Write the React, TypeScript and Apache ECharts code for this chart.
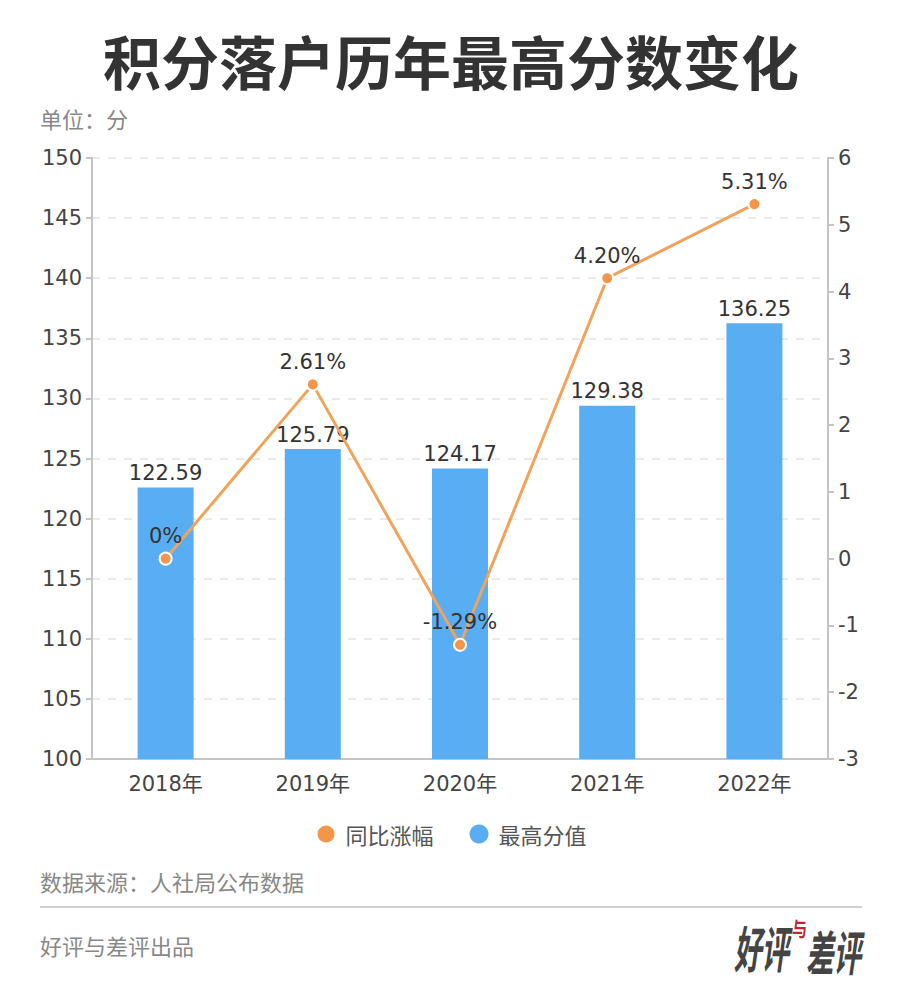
import React, { useEffect, useRef } from "react";
import * as echarts from "echarts";

const categories = ["2018年", "2019年", "2020年", "2021年", "2022年"];
const maxScores = [122.59, 125.79, 124.17, 129.38, 136.25];
const growthRates = [0, 2.61, -1.29, 4.2, 5.31];
const growthLabels = ["0%", "2.61%", "-1.29%", "4.20%", "5.31%"];
const leftTicks = { min: 100, max: 150, interval: 5 };
const rightTicks = { min: -3, max: 6, interval: 1 };

const FONT = "'Noto Sans CJK SC', 'Noto Sans', sans-serif";
const NUMFONT = "'DejaVu Sans', 'Noto Sans CJK SC', sans-serif";

export default function App() {
  const ref = useRef<HTMLDivElement>(null);
  useEffect(() => {
    document.body.style.margin = "0";
    const chart = echarts.init(ref.current!, undefined, { renderer: "svg" });
    chart.setOption({
      animation: false,
      backgroundColor: "#ffffff",
      textStyle: { fontFamily: FONT },
      title: {
        text: "积分落户历年最高分数变化",
        left: "center",
        top: 26,
        textStyle: { fontSize: 58, fontWeight: "bold", color: "#333333", fontFamily: FONT },
      },
      legend: {
        bottom: 150,
        left: "center",
        itemWidth: 19,
        itemHeight: 19,
        itemGap: 36,
        icon: "circle",
        textStyle: { fontSize: 22, color: "#555555", fontFamily: FONT, padding: [0, 0, 0, 5] },
        data: [
          { name: "同比涨幅", itemStyle: { color: "#F5954A" } },
          { name: "最高分值", itemStyle: { color: "#59ADF3" } },
        ],
      },
      grid: { left: 92, right: 74, top: 158, bottom: 241, containLabel: false },
      xAxis: {
        type: "category",
        data: categories,
        axisLine: { onZero: false, lineStyle: { color: "#c4c4c4", width: 2 } },
        axisTick: { alignWithLabel: true, length: 5, lineStyle: { color: "#c4c4c4", width: 2 } },
        axisLabel: { fontSize: 21, color: "#444444", margin: 14, fontFamily: NUMFONT },
      },
      yAxis: [
        {
          type: "value",
          min: leftTicks.min,
          max: leftTicks.max,
          interval: leftTicks.interval,
          axisLine: { show: true, lineStyle: { color: "#c4c4c4", width: 2 } },
          axisTick: { show: true, length: 6, lineStyle: { color: "#c4c4c4", width: 2 } },
          axisLabel: { fontSize: 21, color: "#444444", margin: 10, fontFamily: NUMFONT },
          splitLine: { lineStyle: { color: "#e4e4e4", type: [8, 8], width: 1.5 } },
        },
        {
          type: "value",
          min: rightTicks.min,
          max: rightTicks.max,
          interval: rightTicks.interval,
          axisLine: { show: true, lineStyle: { color: "#c4c4c4", width: 2 } },
          axisTick: { show: true, length: 6, lineStyle: { color: "#c4c4c4", width: 2 } },
          axisLabel: { fontSize: 21, color: "#444444", margin: 10, fontFamily: NUMFONT },
          splitLine: { show: false },
        },
      ],
      series: [
        {
          name: "最高分值",
          type: "bar",
          yAxisIndex: 0,
          data: maxScores,
          barWidth: 56,
          itemStyle: { color: "#59ADF3" },
          label: {
            show: true,
            position: "top",
            distance: 4,
            fontSize: 21,
            color: "#333333",
            fontFamily: NUMFONT,
          },
          z: 1,
        },
        {
          name: "同比涨幅",
          type: "line",
          yAxisIndex: 1,
          data: growthRates,
          symbol: "circle",
          symbolSize: 12,
          lineStyle: { color: "#F0A35A", width: 3 },
          itemStyle: { color: "#F5954A", borderColor: "#ffffff", borderWidth: 2 },
          label: {
            show: true,
            position: "top",
            distance: 5,
            fontSize: 21,
            color: "#333333",
            fontFamily: NUMFONT,
            formatter: (p: any) => growthLabels[p.dataIndex],
          },
          z: 3,
        },
      ],
      graphic: [
        {
          type: "text",
          left: 40,
          top: 107,
          style: { text: "单位：分", fontSize: 22, fill: "#888888", fontFamily: FONT },
        },
        {
          type: "text",
          left: 40,
          top: 870,
          style: { text: "数据来源：人社局公布数据", fontSize: 22, fill: "#888888", fontFamily: FONT },
        },
        {
          type: "line",
          shape: { x1: 40, y1: 907, x2: 862, y2: 907 },
          style: { stroke: "#d0d0d0", lineWidth: 2 },
        },
        {
          type: "text",
          left: 40,
          top: 934,
          style: { text: "好评与差评出品", fontSize: 22, fill: "#888888", fontFamily: FONT },
        },
        {
          type: "group",
          x: 734,
          y: 922,
          children: [
            {
              type: "text",
              x: 0,
              y: 0,
              scaleX: 0.6,
              scaleY: 1.08,
              style: { text: "好评", fontSize: 46, fontWeight: "bold", fontStyle: "italic", fill: "#444444", fontFamily: FONT },
            },
            {
              type: "text",
              x: 72,
              y: 4,
              scaleX: 0.6,
              scaleY: 1.04,
              style: { text: "差评", fontSize: 46, fontWeight: "bold", fontStyle: "italic", fill: "#444444", fontFamily: FONT },
            },
            {
              type: "text",
              x: 58,
              y: -3,
              scaleX: 0.75,
              z: 10,
              style: { text: "与", fontSize: 20, fontWeight: "bold", fill: "#c0262d", fontFamily: FONT },
            },
          ],
        },
      ],
    });
    return () => chart.dispose();
  }, []);
  return (
    <div
      ref={ref}
      style={{ width: 902, height: 1000, position: "absolute", left: 0, top: 0 }}
    />
  );
}
